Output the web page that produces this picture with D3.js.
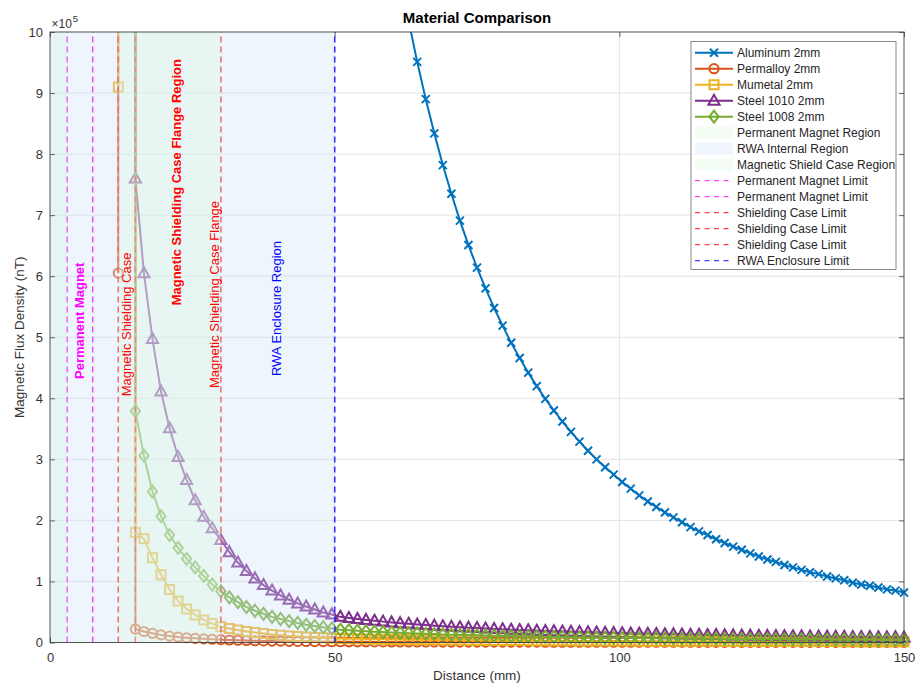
<!DOCTYPE html>
<html>
<head>
<meta charset="utf-8">
<script src="https://cdn.jsdelivr.net/npm/d3@7"></script>
<style>
  body { margin: 0; background: #fff; }
  text { font-family: Arial, "Liberation Sans", Helvetica, sans-serif; }
</style>
</head>
<body>
<svg id="chart" width="919" height="687"></svg>
<script>
// ---- Data (flux density in units of 10^5 nT, distance in mm) ----
const xTickValues = [0, 50, 100, 150];
const yTickValues = [0, 1, 2, 3, 4, 5, 6, 7, 8, 9, 10];

// Aluminum (non-magnetic) curve, sampled every 1.5 mm from 63 mm
const aluminumStart = 63;
const aluminum = [10.18, 9.51, 8.90, 8.34, 7.82, 7.35, 6.91, 6.51, 6.14, 5.80, 5.48, 5.19, 4.91, 4.66, 4.42,
  4.20, 3.99, 3.80, 3.62, 3.45, 3.29, 3.14, 3.00, 2.87, 2.75, 2.63, 2.52, 2.41, 2.31, 2.22, 2.13, 2.05,
  1.97, 1.89, 1.82, 1.76, 1.69, 1.63, 1.57, 1.52, 1.46, 1.41, 1.36, 1.32, 1.27, 1.23, 1.19, 1.15, 1.12,
  1.08, 1.05, 1.02, 0.98, 0.95, 0.93, 0.90, 0.87, 0.85, 0.82];

// Shielded materials, sampled every 1.5 mm from the case outer wall (15 mm)
const shieldStart = 15;
const permalloy = [0.22, 0.18, 0.15, 0.125, 0.105, 0.09, 0.078, 0.068, 0.06, 0.053, 0.047,
  0.041, 0.037, 0.033, 0.029, 0.026, 0.024, 0.022, 0.020, 0.018, 0.016, 0.015, 0.014, 0.013,
  .012, .0115, .011, .0106, .0102, .0098, .0094, .0091, .0087, .0084, .0082, .0079, .0076, .0074, .0072,
  .0069, .0067, .0065, .0063, .0062, .0060, .0058, .0057, .0055, .0054, .0053, .0051, .0050, .0049, .0048,
  .0046, .0045, .0044, .0043, .0042, .0042, .0041, .0040, .0039, .0038, .0037, .0037, .0036, .0035, .0035,
  .0034, .0033, .0033, .0032, .0031, .0031, .0030, .0030, .0029, .0029, .0028, .0028, .0027, .0027, .0027,
  .0026, .0026, .0025, .0025, .0025, .0024, .0024];
const mumetal = [1.80, 1.70, 1.39, 1.11, 0.87, 0.68, 0.55, 0.45, 0.37, 0.31, 0.26,
  0.229, 0.203, 0.181, 0.162, 0.146, 0.131, 0.119, 0.108, 0.099, 0.091, 0.083, 0.077, 0.071,
  .065, .062, .060, .057, .055, .053, .051, .049, .047, .046, .044, .043, .041, .040, .039, .038, .036,
  .035, .034, .033, .032, .032, .031, .030, .029, .028, .028, .027, .026, .026, .025, .025, .024, .023,
  .023, .022, .022, .022, .021, .021, .020, .020, .019, .019, .019, .018, .018, .018, .017, .017, .017,
  .016, .016, .016, .016, .015, .015, .015, .015, .014, .014, .014, .014, .013, .013, .013, .013];
const steel1010 = [7.60, 6.05, 4.97, 4.11, 3.51, 3.04, 2.66, 2.33, 2.06, 1.87, 1.68,
  1.48, 1.31, 1.17, 1.05, 0.94, 0.85, 0.77, 0.70, 0.64, 0.59, 0.54, 0.49, 0.46,
  0.420, 0.402, 0.385, 0.370, 0.355, 0.342, 0.329, 0.317, 0.306, 0.295, 0.285, 0.276, 0.267, 0.258,
  0.250, 0.243, 0.236, 0.229, 0.222, 0.216, 0.210, 0.204, 0.199, 0.193, 0.189, 0.184, 0.179, 0.175,
  0.171, 0.167, 0.163, 0.159, 0.155, 0.152, 0.148, 0.145, 0.142, 0.139, 0.136, 0.134, 0.131, 0.128,
  0.126, 0.123, 0.121, 0.119, 0.116, 0.114, 0.112, 0.110, 0.108, 0.106, 0.104, 0.103, 0.101, 0.099,
  0.098, 0.096, 0.094, 0.093, 0.091, 0.090, 0.089, 0.087, 0.086, 0.085, 0.083];
const steel1008 = [3.79, 3.06, 2.47, 2.07, 1.76, 1.55, 1.37, 1.23, 1.09, 0.95, 0.84,
  0.74, 0.66, 0.58, 0.52, 0.47, 0.42, 0.385, 0.35, 0.32, 0.29, 0.27, 0.25, 0.23,
  0.210, 0.201, 0.193, 0.185, 0.178, 0.171, 0.165, 0.159, 0.153, 0.148, 0.143, 0.138, 0.133, 0.129,
  0.125, 0.121, 0.118, 0.114, 0.111, 0.108, 0.105, 0.102, 0.099, 0.097, 0.094, 0.092, 0.090, 0.087,
  0.085, 0.083, 0.081, 0.079, 0.078, 0.076, 0.074, 0.073, 0.071, 0.070, 0.068, 0.067, 0.065, 0.064,
  0.063, 0.062, 0.060, 0.059, 0.058, 0.057, 0.056, 0.055, 0.054, 0.053, 0.052, 0.051, 0.050, 0.050,
  0.049, 0.048, 0.047, 0.046, 0.046, 0.045, 0.044, 0.044, 0.043, 0.042, 0.042];
const sampleStep = 1.5;

// Field at the shield walls: off-scale peak, then the value just outside the wall
const innerWall = 12, outerWall = 15;
const wallPeak = 14;
const permalloyInnerWall = 6.05;
const mumetalInnerWall = 9.10;

// Regions and limit lines (mm)
const magnetRegion = [0, 3];
const rwaRegion = [0, 50];
const shieldRegion = [12, 30];
const magnetLimits = [3, 7.5];
const shieldLimits = [12, 15, 30];
const enclosureLimits = [50];

// ---- Layout ----
const svg = d3.select("#chart");
const plot = { left: 50, right: 904, top: 32, bottom: 642.5 };
const x = d3.scaleLinear().domain([0, 150]).range([plot.left, plot.right]);
const y = d3.scaleLinear().domain([0, 10]).range([plot.bottom, plot.top]);
const FONT = 'Arial, "Liberation Sans", Helvetica, sans-serif';
const axisColor = "#404040";

svg.append("defs").append("clipPath").attr("id", "plotClip")
  .append("rect")
  .attr("x", plot.left).attr("y", plot.top)
  .attr("width", plot.right - plot.left).attr("height", plot.bottom - plot.top);

// ---- Grid ----
const grid = svg.append("g");
grid.selectAll(".gy").data(yTickValues.slice(1, -1)).join("line")
  .attr("x1", plot.left).attr("x2", plot.right)
  .attr("y1", d => y(d)).attr("y2", d => y(d))
  .attr("stroke", "#e3e3e3").attr("stroke-width", 1);
grid.selectAll(".gx").data(xTickValues.slice(1, -1)).join("line")
  .attr("x1", d => x(d)).attr("x2", d => x(d))
  .attr("y1", plot.top).attr("y2", plot.bottom)
  .attr("stroke", "#e3e3e3").attr("stroke-width", 1);

// ---- Series ----
function sampled(start, values) {
  return values.map((b, i) => ({ d: start + i * sampleStep, b }));
}
function shielded(values, innerValue) {
  const pts = [];
  if (innerValue !== undefined) {
    pts.push({ d: innerWall, b: wallPeak, hidden: true }, { d: innerWall, b: innerValue }, null);
  }
  pts.push({ d: outerWall, b: wallPeak, hidden: true });
  return pts.concat(sampled(shieldStart, values));
}

const series = [
  { name: "Aluminum 2mm", color: "#0072BD", marker: "x", points: sampled(aluminumStart, aluminum) },
  { name: "Permalloy 2mm", color: "#D95319", marker: "circle", points: shielded(permalloy, permalloyInnerWall) },
  { name: "Mumetal 2mm", color: "#EDB120", marker: "square", points: shielded(mumetal, mumetalInnerWall) },
  { name: "Steel 1010 2mm", color: "#7E2F8E", marker: "triangle", points: shielded(steel1010) },
  { name: "Steel 1008 2mm", color: "#77AC30", marker: "diamond", points: shielded(steel1008) }
];

const markerPaths = {
  x: "M-4,-4L4,4M-4,4L4,-4",
  circle: "M4.6,0A4.6,4.6 0 1,1 -4.6,0A4.6,4.6 0 1,1 4.6,0Z",
  square: "M-4.5,-4.5H4.5V4.5H-4.5Z",
  triangle: "M0,-6L5.6,4H-5.6Z",
  diamond: "M0,-6L4.6,0L0,6L-4.6,0Z"
};

const line = d3.line().defined(p => p !== null).x(p => x(p.d)).y(p => y(p.b));
const dataLayer = svg.append("g");
series.forEach(s => {
  dataLayer.append("path")
    .attr("d", line(s.points))
    .attr("clip-path", "url(#plotClip)")
    .attr("fill", "none").attr("stroke", s.color).attr("stroke-width", 2)
    .attr("stroke-linejoin", "round");
  dataLayer.append("g").selectAll("path")
    .data(s.points.filter(p => p && !p.hidden && p.b <= 10))
    .join("path")
    .attr("transform", p => `translate(${x(p.d)},${y(p.b)})`)
    .attr("d", markerPaths[s.marker])
    .attr("fill", "none").attr("stroke", s.color).attr("stroke-width", 2);
});

// ---- Limit lines ----
const limitGroups = [
  { values: magnetLimits, color: "#FF00FF", label: "Permanent Magnet Limit" },
  { values: shieldLimits, color: "#FF0000", label: "Shielding Case Limit" },
  { values: enclosureLimits, color: "#0000FF", label: "RWA Enclosure Limit" }
];
const limitLayer = svg.append("g");
limitGroups.forEach(g => {
  limitLayer.selectAll(null).data(g.values).join("line")
    .attr("x1", d => x(d)).attr("x2", d => x(d))
    .attr("y1", y(0)).attr("y2", y(10))
    .attr("stroke", g.color).attr("stroke-width", 1.5)
    .attr("stroke-dasharray", "6,4");
});

// ---- Shaded regions (translucent, over the curves) ----
const regions = [
  { range: magnetRegion, color: "#DDF8E0", label: "Permanent Magnet Region" },
  { range: rwaRegion, color: "#CEE2F9", label: "RWA Internal Region" },
  { range: shieldRegion, color: "#DDF8E0", label: "Magnetic Shield Case Region" }
];
const regionAlpha = 0.35;
svg.append("g").selectAll("rect").data(regions).join("rect")
  .attr("x", r => x(r.range[0])).attr("width", r => x(r.range[1]) - x(r.range[0]))
  .attr("y", y(10)).attr("height", y(0) - y(10))
  .attr("fill", r => r.color).attr("fill-opacity", regionAlpha);

// ---- Region annotations ----
const annotations = [
  { text: "Permanent Magnet", d: 5.24, b: 5.27, color: "#FF00FF", weight: "bold" },
  { text: "Magnetic Shielding Case", d: 13.35, b: 5.21, color: "#FF0000", weight: "normal" },
  { text: "Magnetic Shielding Case Flange Region", d: 22.22, b: 7.54, color: "#FF0000", weight: "bold" },
  { text: "Magnetic Shielding Case Flange", d: 28.95, b: 5.70, color: "#FF0000", weight: "normal" },
  { text: "RWA Enclosure Region", d: 39.79, b: 5.47, color: "#0000FF", weight: "normal" }
];
svg.append("g").selectAll("text").data(annotations).join("text")
  .attr("transform", a => `translate(${x(a.d)},${y(a.b)}) rotate(-90)`)
  .attr("text-anchor", "middle").attr("dominant-baseline", "central")
  .attr("font-size", 13).attr("font-weight", a => a.weight)
  .attr("fill", a => a.color).text(a => a.text);

// ---- Axes ----
const axes = svg.append("g").attr("font-family", FONT);
axes.append("g").attr("transform", `translate(${plot.left},0)`)
  .call(d3.axisLeft(y).tickValues(yTickValues).tickSize(-5).tickPadding(7).tickFormat(d3.format("d")));
axes.append("g").attr("transform", `translate(0,${plot.bottom})`)
  .call(d3.axisBottom(x).tickValues(xTickValues).tickSize(-5).tickPadding(10).tickFormat(d3.format("d")));
axes.append("g").attr("transform", `translate(${plot.right},0)`)
  .call(d3.axisRight(y).tickValues(yTickValues).tickSize(-5).tickFormat(""));
axes.append("g").attr("transform", `translate(0,${plot.top})`)
  .call(d3.axisTop(x).tickValues(xTickValues).tickSize(-5).tickFormat(""));
axes.selectAll(".domain").remove();
axes.selectAll(".tick line").attr("stroke", axisColor).attr("stroke-width", 0.8);
axes.selectAll(".tick text").attr("font-size", 13).attr("fill", "#333").attr("font-family", FONT);
axes.append("rect")
  .attr("x", plot.left).attr("y", plot.top)
  .attr("width", plot.right - plot.left).attr("height", plot.bottom - plot.top)
  .attr("fill", "none").attr("stroke", axisColor).attr("stroke-width", 0.9);

// exponent marker for the y axis
const expo = svg.append("text").attr("x", plot.left + 1.5).attr("y", 27.5)
  .attr("font-size", 12).attr("fill", "#333");
expo.append("tspan").text("\u00d710");
expo.append("tspan").attr("dx", 1).attr("dy", -6).attr("font-size", 9.5).text("5");

// titles
svg.append("text").attr("x", (plot.left + plot.right) / 2).attr("y", 23)
  .attr("text-anchor", "middle").attr("font-size", 15).attr("font-weight", "bold")
  .attr("fill", "#000").text("Material Comparison");
svg.append("text").attr("x", (plot.left + plot.right) / 2).attr("y", 679.5)
  .attr("text-anchor", "middle").attr("font-size", 13.5).attr("fill", "#333").text("Distance (mm)");
svg.append("text").attr("transform", `translate(19,${(plot.top + plot.bottom) / 2}) rotate(-90)`)
  .attr("text-anchor", "middle").attr("dominant-baseline", "central")
  .attr("font-size", 13.5).attr("fill", "#333").text("Magnetic Flux Density (nT)");

// ---- Legend ----
const legendItems = [];
series.forEach(s => legendItems.push({ kind: "series", s }));
regions.forEach(r => legendItems.push({ kind: "region", r }));
limitGroups.forEach(g => g.values.forEach(() => legendItems.push({ kind: "limit", g })));

const legend = svg.append("g");
const lg = { x: 691, y: 41.5, w: 205, h: 228, row: 16, first: 11.2 };
legend.append("rect").attr("x", lg.x).attr("y", lg.y).attr("width", lg.w).attr("height", lg.h)
  .attr("fill", "#fff").attr("stroke", "#6b6b6b").attr("stroke-width", 0.8);
legendItems.forEach((item, i) => {
  const cy = lg.y + lg.first + i * lg.row;
  const g = legend.append("g").attr("transform", `translate(${lg.x},${cy})`);
  if (item.kind === "series") {
    g.append("line").attr("x1", 4).attr("x2", 42).attr("y1", 0).attr("y2", 0)
      .attr("stroke", item.s.color).attr("stroke-width", 2);
    g.append("path").attr("transform", "translate(23,0)").attr("d", markerPaths[item.s.marker])
      .attr("fill", "none").attr("stroke", item.s.color).attr("stroke-width", 2);
  } else if (item.kind === "region") {
    g.append("rect").attr("x", 4).attr("y", -6).attr("width", 38).attr("height", 12)
      .attr("fill", item.r.color).attr("fill-opacity", regionAlpha);
  } else {
    g.append("line").attr("x1", 4).attr("x2", 42).attr("y1", 0).attr("y2", 0)
      .attr("stroke", item.g.color).attr("stroke-width", 1.2).attr("stroke-opacity", 0.75)
      .attr("stroke-dasharray", "5,4.5");
  }
  const label = item.kind === "series" ? item.s.name : item.kind === "region" ? item.r.label : item.g.label;
  g.append("text").attr("x", 46).attr("y", 0).attr("dominant-baseline", "central")
    .attr("font-size", 12).attr("fill", "#262626").text(label);
});
</script>
</body>
</html>
